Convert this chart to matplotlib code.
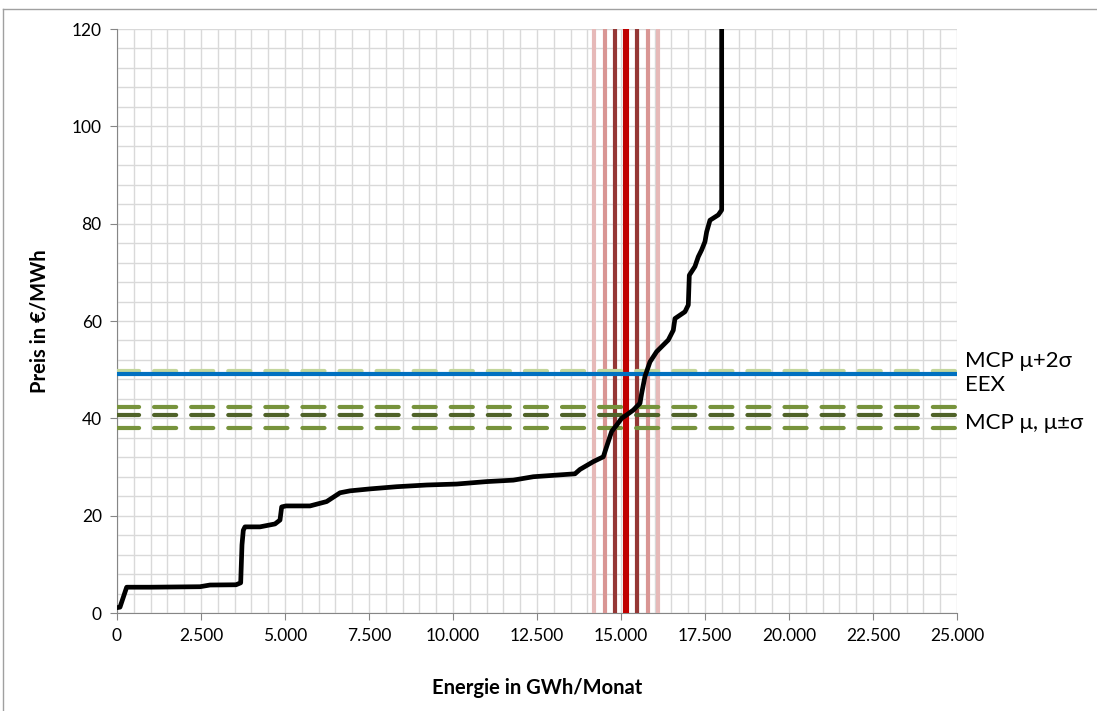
import matplotlib.pyplot as plt
from matplotlib.lines import Line2D
from matplotlib.ticker import MultipleLocator, FuncFormatter

# supply curve (Energie in GWh/Monat, Preis in EUR/MWh)
energy = [0, 89, 288, 982, 2470, 2768, 3541, 3681, 3720, 3759, 3809, 4256,
          4702, 4851, 4901, 5029, 5744, 6240, 6637, 6934, 7529, 8324, 9216,
          10110, 11003, 11795, 12390, 13630, 13779, 14176, 14474, 14573,
          14722, 14870, 15019, 15168, 15366, 15565, 15614, 15713, 15862,
          16061, 16408, 16556, 16606, 16904, 17003, 17033, 17201, 17300,
          17400, 17499, 17549, 17648, 17896, 17996, 17996]
price = [1.1, 1.2, 5.3, 5.3, 5.4, 5.75, 5.8, 6.2, 14.0, 17.0, 17.7, 17.7,
         18.3, 19.1, 21.8, 22.0, 22.0, 22.9, 24.7, 25.1, 25.5, 25.95, 26.3,
         26.5, 27.0, 27.3, 28.0, 28.6, 29.5, 31.1, 32.1, 34.2,
         37.3, 38.6, 40.0, 40.7, 41.7, 43.1, 45.1, 48.6, 51.6,
         53.7, 56.1, 58.1, 60.5, 61.9, 63.3, 69.4, 71.2, 73.2,
         74.6, 76.3, 78.3, 80.7, 81.8, 82.8, 130]

# market clearing volume: mean and +-1/2/3 sigma
mcv_mean = 15150
mcv_offsets = [320, 640, 960]
mcv_colors = ['#953735', '#D99694', '#E6B9B8']

# prices
eex_price = 49.1
mcp_mean = 40.7
mcp_low = 37.95
mcp_high = 42.4
mcp_2sigma = 49.7

fig = plt.figure(figsize=(10.97, 7.11), dpi=100)
plt.rcParams['font.family'] = ['Lato', 'DejaVu Sans']
ax = fig.add_axes([117 / 1097, 1 - 613 / 711, 840 / 1097, 584 / 711])

# vertical lines
for off, col in zip(mcv_offsets[::-1], mcv_colors[::-1]):
    for s in (-1, 1):
        ax.axvline(mcv_mean + s * off, color=col, lw=3.0, zorder=3)
ax.axvline(mcv_mean, color='#C00000', lw=4.4, zorder=3)

# horizontal lines
dash = dict(linestyle=(0, (5.3, 3.6)), dash_capstyle='round', lw=3.0, zorder=4)
ax.axhline(mcp_2sigma, color='#C3D69B', **dash)
ax.axhline(mcp_high, color='#77933C', **dash)
ax.axhline(mcp_low, color='#77933C', **dash)
ax.axhline(mcp_mean, color='#4F6228', **dash)
ax.axhline(eex_price, color='#0070C0', lw=3.0, zorder=4)

ax.plot(energy, price, color='black', lw=3.4, zorder=5,
        solid_joinstyle='round')

ax.set_xlim(0, 25000)
ax.set_ylim(0, 120)
ax.xaxis.set_major_locator(MultipleLocator(2500))
ax.xaxis.set_minor_locator(MultipleLocator(500))
ax.yaxis.set_major_locator(MultipleLocator(20))
ax.yaxis.set_minor_locator(MultipleLocator(4))
ax.xaxis.set_major_formatter(
    FuncFormatter(lambda v, p: f'{int(v):,}'.replace(',', '.')))
ax.grid(which='both', color='#D9D9D9', lw=1.0, zorder=0)
ax.set_axisbelow(True)
ax.tick_params(which='major', length=5, color='#868686', labelsize=12.5,
               pad=6)
ax.tick_params(which='minor', length=0)
for side in ('top', 'right'):
    ax.spines[side].set_visible(False)
for side in ('left', 'bottom'):
    ax.spines[side].set_color('#868686')

ax.set_xlabel('Energie in GWh/Monat', fontsize=14.5, fontweight='bold',
              labelpad=24)
ax.set_ylabel('Preis in €/MWh', fontsize=14.5, fontweight='bold', labelpad=16)

fig.text(965 / 1097, 1 - 361 / 711, 'MCP μ+2σ', fontsize=16, va='center')
fig.text(965 / 1097, 1 - 385 / 711, 'EEX', fontsize=16, va='center')
fig.text(965 / 1097, 1 - 423 / 711, 'MCP μ, μ±σ', fontsize=16, va='center')

# chart border
fig.add_artist(Line2D([3 / 1097, 3 / 1097], [0, 1 - 9 / 711],
                      transform=fig.transFigure, color='#A0A0A0', lw=1))
fig.add_artist(Line2D([3 / 1097, 1], [1 - 9 / 711, 1 - 9 / 711],
                      transform=fig.transFigure, color='#A0A0A0', lw=1))

fig.savefig('out.png', dpi=100)
